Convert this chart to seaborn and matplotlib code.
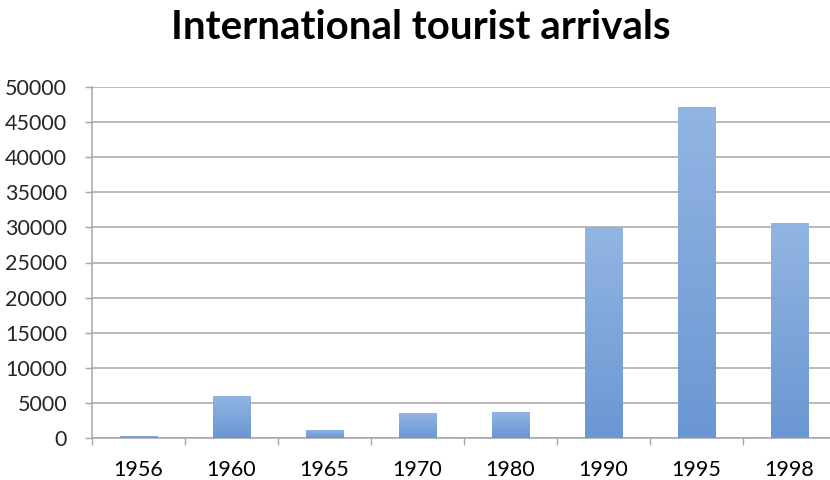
import numpy as np
import pandas as pd
import matplotlib
matplotlib.use("Agg")
import matplotlib.pyplot as plt
from matplotlib.colors import LinearSegmentedColormap
import seaborn as sns

# Data
years = ["1956", "1960", "1965", "1970", "1980", "1990", "1995", "1998"]
arrivals = [300, 6000, 1200, 3500, 3750, 30000, 47200, 30600]
y_ticks = [0, 5000, 10000, 15000, 20000, 25000, 30000, 35000, 40000, 45000, 50000]

df = pd.DataFrame({"year": years, "arrivals": arrivals})

sns.set_theme(style="white")
plt.rcParams["font.family"] = ["Lato", "DejaVu Sans"]

fig = plt.figure(figsize=(8.3, 4.8), dpi=100)
ax = fig.add_axes([92 / 830, 42 / 480, 744 / 830, 351 / 480])

sns.barplot(data=df, x="year", y="arrivals", color="#7ba3da", width=0.4,
            saturation=1, ax=ax, zorder=3)

# Vertical gradient fill inside every bar
grad = LinearSegmentedColormap.from_list("bar_grad", ["#6a97d3", "#93b5e2"])
gradient = np.linspace(0, 1, 256).reshape(-1, 1)
for patch in ax.patches:
    x0, y0 = patch.get_x(), patch.get_y()
    w, h = patch.get_width(), patch.get_height()
    img = ax.imshow(gradient, cmap=grad, aspect="auto", origin="lower",
                    extent=[x0, x0 + w, y0, y0 + h], zorder=4)
    img.set_clip_path(patch)
    patch.set_edgecolor("none")

ax.set_xlim(-0.5, len(years) - 0.5)
ax.set_ylim(0, 50000)
ax.set_yticks(y_ticks)
ax.set_yticklabels([str(t) for t in y_ticks])
ax.yaxis.grid(True, color="#a6a6a6", linewidth=1.1, zorder=0)
ax.set_axisbelow(True)

ax.set_xlabel("")
ax.set_ylabel("")

# Ticks on category boundaries along the x axis
ax.set_xticks(np.arange(-0.5, len(years), 1.0), minor=True)
ax.tick_params(axis="x", which="major", length=0, pad=16, labelsize=15.5, colors="black")
ax.tick_params(axis="x", which="minor", length=5, width=1, color="#a6a6a6", direction="out", bottom=True)
ax.tick_params(axis="y", which="major", length=5, width=1, color="#a6a6a6", direction="out",
               pad=13, labelsize=15.5, left=True)

for side in ["top", "right"]:
    ax.spines[side].set_visible(False)
for side in ["left", "bottom"]:
    ax.spines[side].set_color("#a6a6a6")
    ax.spines[side].set_linewidth(1.1)

fig.text(0.507, (480 - 39) / 480, "International tourist arrivals", ha="center", va="baseline",
         fontsize=29, fontweight="bold", color="black")

fig.savefig("out.png", dpi=100, facecolor="white")
